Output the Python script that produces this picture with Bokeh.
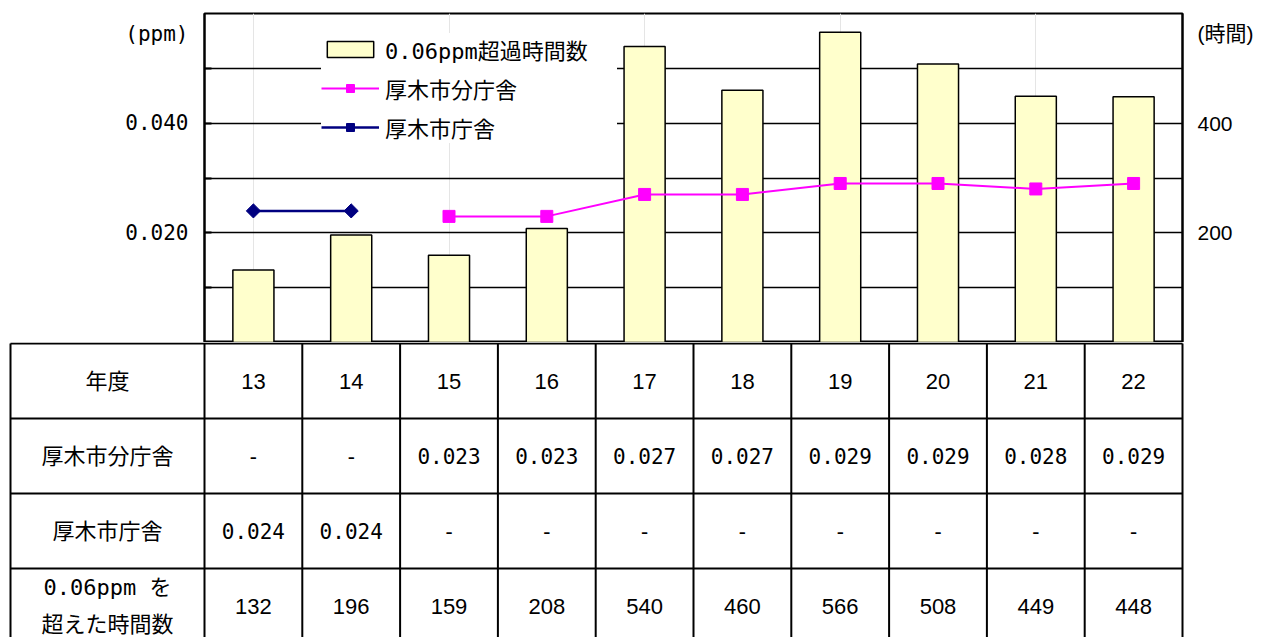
from bokeh.plotting import figure
from bokeh.models import (Range1d, LinearAxis, FixedTicker, Grid, Legend, LegendItem,
                          ColumnDataSource, PrintfTickFormatter)
from bokeh.layouts import column
from bokeh.embed import file_html
from bokeh.resources import INLINE
from bokeh.core.properties import value

# ---- data -------------------------------------------------------------
years = ["13", "14", "15", "16", "17", "18", "19", "20", "21", "22"]
bunchosha = [None, None, 0.023, 0.023, 0.027, 0.027, 0.029, 0.029, 0.028, 0.029]   # 厚木市分庁舎 (ppm)
chosha = [0.024, 0.024, None, None, None, None, None, None, None, None]             # 厚木市庁舎 (ppm)
hours = [132, 196, 159, 208, 540, 460, 566, 508, 449, 448]                          # 0.06ppm超過時間数

row_labels = ["年度", "厚木市分庁舎", "厚木市庁舎", "0.06ppm を\n超えた時間数"]
legend_labels = ["0.06ppm超過時間数", "厚木市分庁舎", "厚木市庁舎"]
ppm_ticks = [0.02, 0.04]
ppm_grid = [0.01, 0.02, 0.03, 0.04, 0.05]
hour_ticks = [200, 400]
ppm_unit, hour_unit = "(ppm)", "(時間)"

MONO = "DejaVu Sans Mono, Noto Sans CJK JP"
SANS = "Liberation Sans, Noto Sans CJK JP"
FS = "21px"

n = len(years)
idx = list(range(n))

# unit captions sit just below the top of each axis, as extra labelled ticks
PPM_MAX, HOUR_MAX = 0.06, 600
unit_frac = 0.939
ppm_unit_at = round(PPM_MAX * unit_frac, 5)
hour_unit_at = round(HOUR_MAX * unit_frac, 2)

# ---- chart --------------------------------------------------------------
p = figure(width=1280, height=342, x_range=Range1d(-0.5, n - 0.5), y_range=Range1d(0, PPM_MAX),
           output_backend="svg", toolbar_location=None,
           min_border_left=204, min_border_right=98, min_border_top=13, min_border_bottom=0,
           x_axis_location=None, y_axis_location=None)
p.frame_align = False
p.extra_y_ranges = {"hours": Range1d(0, HOUR_MAX)}
p.outline_line_color = "black"
p.outline_line_width = 2
p.background_fill_color = "white"
p.border_fill_color = "white"

left = LinearAxis(ticker=FixedTicker(ticks=ppm_ticks + [ppm_unit_at], minor_ticks=ppm_grid),
                  formatter=PrintfTickFormatter(format="%.3f"))
left.major_label_overrides = {ppm_unit_at: ppm_unit}
left.axis_line_color = "black"
left.axis_line_width = 2
left.major_tick_in = 0
left.major_tick_out = 0
left.minor_tick_in = 7
left.minor_tick_out = 0
left.minor_tick_line_width = 2
left.major_label_standoff = 16
left.major_label_text_font = MONO
left.major_label_text_font_size = FS
left.major_label_text_color = "black"
p.add_layout(left, "left")

right = LinearAxis(y_range_name="hours", ticker=FixedTicker(ticks=hour_ticks + [hour_unit_at]))
right.major_label_overrides = {hour_unit_at: hour_unit}
right.axis_line_color = "black"
right.axis_line_width = 2
right.major_tick_in = 0
right.major_tick_out = 0
right.minor_tick_line_color = None
right.major_label_standoff = 15
right.major_label_text_font = SANS
right.major_label_text_font_size = FS
right.major_label_text_color = "black"
p.add_layout(right, "right")

p.add_layout(Grid(dimension=1, ticker=FixedTicker(ticks=ppm_grid),
                  grid_line_color="black", grid_line_width=1.5))

bars = p.vbar(x=idx, top=hours, width=0.42, bottom=0, y_range_name="hours",
              fill_color="#FFFFCC", line_color="black", line_width=1.5)

bx = [i for i, v in zip(idx, bunchosha) if v is not None]
by = [v for v in bunchosha if v is not None]
cx = [i for i, v in zip(idx, chosha) if v is not None]
cy = [v for v in chosha if v is not None]

b_line = p.line(bx, by, line_color="#FF00FF", line_width=2)
b_pts = p.scatter(bx, by, marker="square", size=12, fill_color="#FF00FF", line_color="#FF00FF")
c_line = p.line(cx, cy, line_color="#000080", line_width=2.5)
c_pts = p.scatter(cx, cy, marker="square", angle=0.7853981634, size=10,
                  fill_color="#000080", line_color="#000080")

legend = Legend(items=[LegendItem(label=legend_labels[0], renderers=[bars]),
                       LegendItem(label=legend_labels[1], renderers=[b_line, b_pts]),
                       LegendItem(label=legend_labels[2], renderers=[c_line, c_pts])],
                location=(117, 199), glyph_width=58, glyph_height=20, label_height=20,
                label_width=232, label_standoff=6, spacing=7, padding=8, margin=0,
                border_line_color=None, background_fill_color="white", background_fill_alpha=1.0,
                label_text_font=MONO, label_text_font_size="22px", label_text_color="black")
p.add_layout(legend)

# ---- data table under the chart -------------------------------------------
ROW_PX = 75
COL_PX = 978 / n
t_height = 295
t = figure(width=1280, height=t_height,
           x_range=Range1d(-0.5 - 204 / COL_PX, n - 0.5 + 20 / COL_PX),
           y_range=Range1d((t_height - 1) / ROW_PX, -1 / ROW_PX),
           output_backend="svg", toolbar_location=None,
           min_border_left=0, min_border_right=78, min_border_top=0, min_border_bottom=0,
           x_axis_location=None, y_axis_location=None)
t.frame_align = False
t.outline_line_color = None
t.xgrid.visible = False
t.ygrid.visible = False
t.background_fill_color = "white"
t.border_fill_color = "white"

n_rows = len(row_labels)
x_left = -0.5 - 194 / COL_PX
x_right = n - 0.5
v_edges = [x_left] + [i - 0.5 for i in range(n + 1)]
t.segment(x0=v_edges, y0=[0] * len(v_edges), x1=v_edges, y1=[n_rows] * len(v_edges),
          line_color="black", line_width=2)
h_edges = list(range(n_rows + 1))
t.segment(x0=[x_left] * len(h_edges), y0=h_edges, x1=[x_right] * len(h_edges), y1=h_edges,
          line_color="black", line_width=2)

# row headings
t.text(x=[(x_left - 0.5) / 2] * n_rows, y=[r + 0.5 for r in range(n_rows)], text=row_labels,
       text_font=value(MONO), text_font_size="22px", text_align="center", text_baseline="middle",
       text_line_height=1.45, text_color="black")


def fmt_ppm(v):
    return "-" if v is None else f"{v:.3f}"


cells = ColumnDataSource(dict(
    x=idx + idx,
    y=[0.5] * n + [3.5] * n,
    text=years + [str(h) for h in hours],
))
t.text(x="x", y="y", text="text", source=cells, text_font=value(SANS), text_font_size="22px",
       text_align="center", text_baseline="middle", text_color="black")

ppm_cells = ColumnDataSource(dict(
    x=idx + idx,
    y=[1.5] * n + [2.5] * n,
    text=[fmt_ppm(v) for v in bunchosha] + [fmt_ppm(v) for v in chosha],
))
t.text(x="x", y="y", text="text", source=ppm_cells, text_font=value(MONO), text_font_size=FS,
       text_align="center", text_baseline="middle", text_color="black")

layout = column(p, t, spacing=0)
open("out.html", "w").write(file_html(layout, INLINE))
